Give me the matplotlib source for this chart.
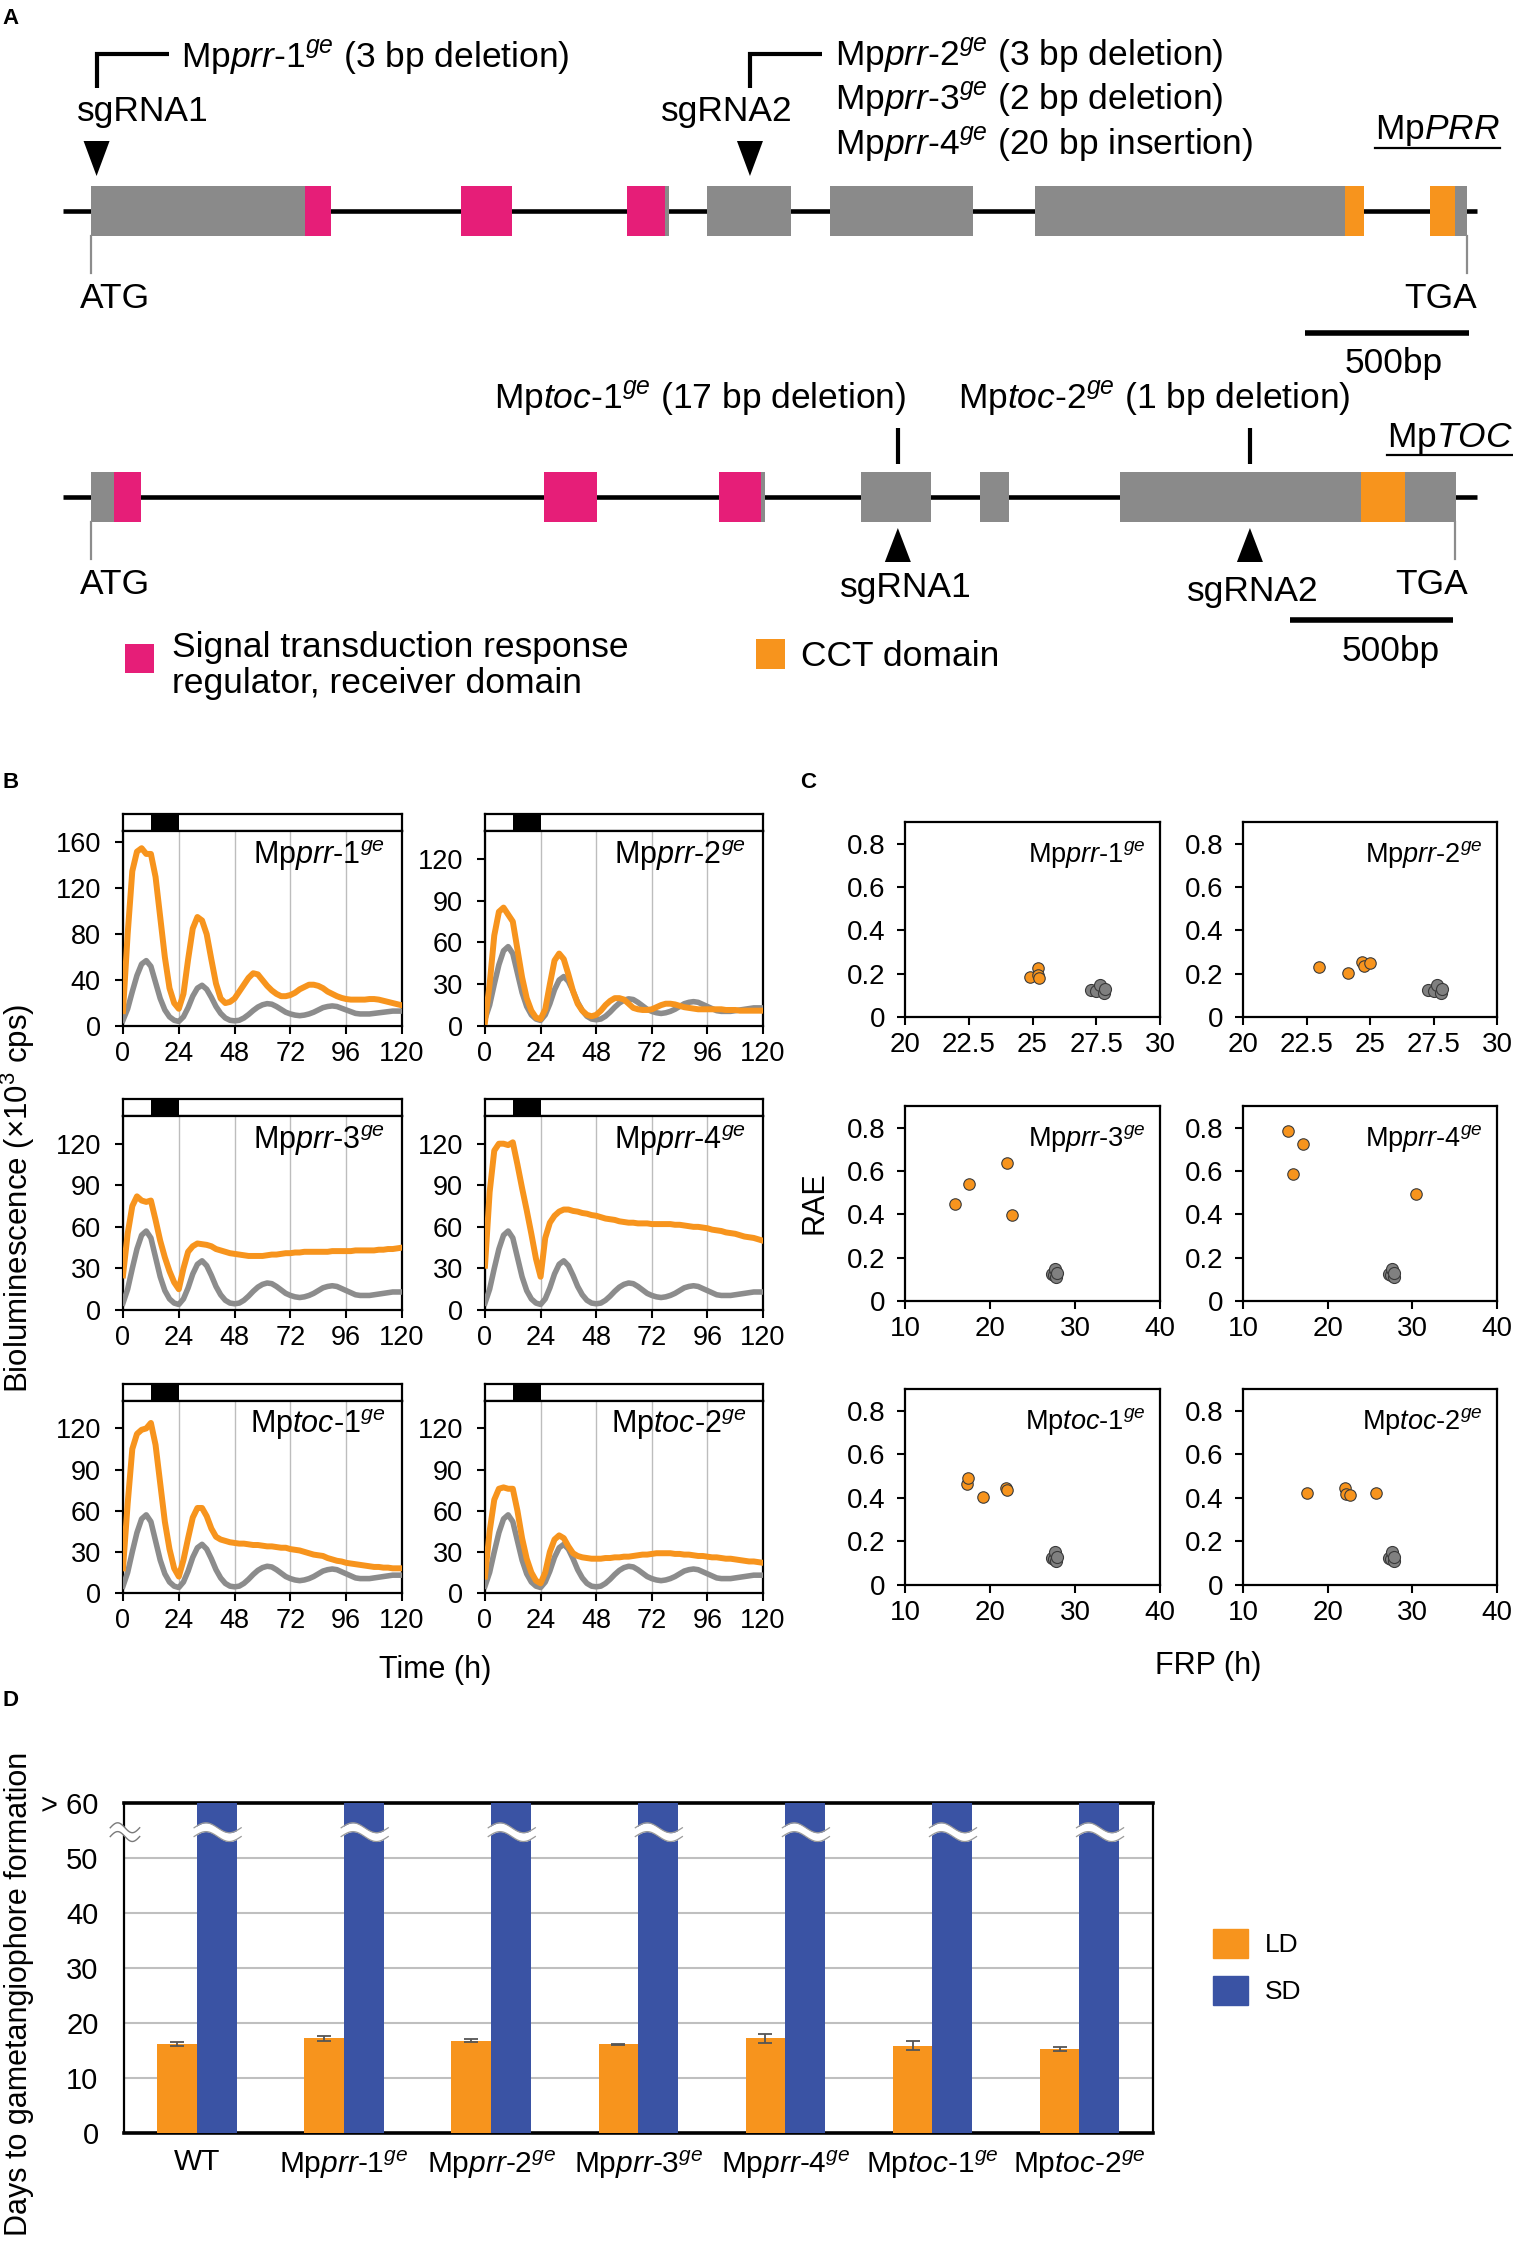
import numpy as np
import matplotlib
matplotlib.use('Agg')
import matplotlib.pyplot as plt
from matplotlib.patches import Rectangle, Polygon, Patch
from matplotlib.lines import Line2D

plt.rcParams['font.family'] = ['Liberation Sans', 'DejaVu Sans']
plt.rcParams['mathtext.fontset'] = 'custom'
plt.rcParams['mathtext.rm'] = 'Liberation Sans'
plt.rcParams['mathtext.it'] = 'Liberation Sans:italic'
plt.rcParams['mathtext.bf'] = 'Liberation Sans:bold'

ORANGE = '#F7941D'
PINK = '#E61E78'
GRAY_EXON = '#8A8A8A'
GRAY_LINE = '#8C8C8C'
GRAY_PT = '#808080'
BLUE = '#3A53A4'

# ---------------- Panel A data (bp from ATG) ----------------
PRR_EXONS = [(0, 732), (1128, 1284), (1634, 1762), (1878, 2134), (2253, 2689), (2878, 3881), (4082, 4195)]
PRR_RECEIVER = [(652, 732), (1128, 1284), (1634, 1750)]
PRR_CCT = [(3823, 3881), (4082, 4159)]
PRR_TGA = 4195
PRR_SGRNA = [17, 2009]
PRR_SPAN = (-85, 4226)

TOC_EXONS = [(0, 153), (1390, 1552), (1926, 2067), (2362, 2577), (2727, 2816), (3156, 4187)]
TOC_RECEIVER = [(71, 153), (1390, 1552), (1926, 2055)]
TOC_CCT = [(3896, 4031)]
TOC_TGA = 4184
TOC_SGRNA = [2475, 3555]
TOC_SPAN = (-86, 4252)
SCALE_BP = 500

# ---------------- Panel B data ----------------
hours = list(range(0, 121, 2))
wt_lum = [5, 15, 30, 44, 54, 57, 52, 38, 24, 14,
          8, 5, 4, 8, 16, 26, 33, 35.5, 32, 25,
          17, 11, 7, 5, 4.5, 5, 7, 10, 13.5, 16.5,
          18.5, 19.5, 19, 17, 14.5, 12, 10.5, 9.5, 9, 9.5,
          10.5, 12, 14, 16, 17, 17.5, 17, 15.5, 14, 12.5,
          11, 10.5, 10.5, 10.5, 11, 11.5, 12, 12.5, 13, 13,
          13]
prr1_lum = [13, 80, 135, 152, 155, 150, 150, 130, 95, 60,
            33, 20, 15, 28, 58, 85, 95, 92, 80, 58,
            37, 24, 20, 21, 24, 30, 36, 42, 46, 45,
            40, 35, 31, 28, 26, 26, 27, 29, 32, 34,
            36, 36, 35, 33, 30, 28, 26, 24.5, 23.5, 23,
            23, 23, 23, 23.5, 23.5, 23, 22, 21, 20, 19,
            18]
prr2_lum = [3, 30, 65, 82, 85, 80, 75, 55, 35, 20,
            11, 6, 5, 12, 30, 47, 52, 48, 37, 25,
            16, 11, 8, 7, 8, 11, 15, 18, 20, 20,
            19, 16, 13, 12, 11.5, 11.5, 12, 13.5, 15, 16,
            16, 15.5, 14.5, 13.5, 13, 12.5, 12, 12, 12, 12,
            12, 12, 11.5, 11.5, 11.5, 11, 11, 11, 11, 11,
            11]
prr3_lum = [25, 55, 75, 82, 79, 78, 79, 65, 50, 38,
            28, 20, 15, 30, 42, 46, 48, 47.5, 47, 46,
            44, 43, 42, 41, 40.5, 40, 39.5, 39, 39, 39,
            39, 39.5, 40, 40, 40.5, 41, 41, 41.5, 41.5, 42,
            42, 42, 42, 42, 42, 42.5, 42.5, 42.5, 42.5, 42.5,
            43, 43, 43, 43, 43, 43.5, 43.5, 44, 44, 44.5,
            45]
prr4_lum = [32, 85, 115, 120, 120, 119, 121, 105, 88, 72,
            55, 37, 24, 52, 63, 68, 71, 72.5, 72.5, 71.5,
            71, 70, 69.5, 68.5, 68, 67, 66, 65.5, 65, 64,
            63.5, 63, 63, 62.5, 62.5, 62.5, 62, 62, 62, 62,
            62, 61.5, 61.5, 61, 60.5, 60, 60, 59.5, 59, 58,
            57.5, 57, 56, 55.5, 55, 54, 53, 52.5, 52, 51,
            50]
toc1_lum = [18, 65, 105, 116, 119, 120, 124, 108, 80, 52,
            32, 18, 12, 24, 40, 55, 62, 62, 56, 47,
            41, 39, 38, 37, 36.5, 36, 36, 35.5, 35, 35,
            34.5, 34, 34, 33.5, 33, 33, 32, 31.5, 31, 30,
            29, 28, 27.5, 27, 25.5, 24.5, 23.5, 23, 22, 21.5,
            21, 20.5, 20, 19.5, 19, 19, 18.5, 18.5, 18, 18,
            18]
toc2_lum = [12, 45, 68, 76, 77, 76, 76, 60, 40, 25,
            15, 9, 7, 15, 30, 39, 42, 40, 34, 29,
            27, 26, 25.5, 25, 25, 25, 25.5, 25.5, 26, 26,
            26.5, 26.5, 27, 27.5, 28, 28, 28.5, 29, 29, 29,
            29, 28.5, 28.5, 28, 28, 27.5, 27, 27, 26.5, 26,
            26, 25.5, 25, 25, 24.5, 24, 23.5, 23, 23, 22.5,
            22]
LIGHT_DARK = [(0, 12, 'white'), (12, 24, 'black'), (24, 120, 'white')]

# ---------------- Panel C data ----------------
wt_frp = [27.3, 27.5, 27.65, 27.8, 27.85]
wt_rae = [0.125, 0.12, 0.15, 0.11, 0.13]
prr1_frp = [24.9, 25.2, 25.2, 25.25]
prr1_rae = [0.185, 0.225, 0.195, 0.18]
prr2_frp = [23.0, 24.15, 24.7, 24.75, 25.0]
prr2_rae = [0.23, 0.205, 0.255, 0.235, 0.25]
prr3_frp = [15.9, 17.5, 22.05, 22.6]
prr3_rae = [0.447, 0.54, 0.637, 0.396]
prr4_frp = [15.3, 17.05, 15.95, 30.4]
prr4_rae = [0.786, 0.724, 0.586, 0.494]
toc1_frp = [17.25, 17.4, 19.15, 21.9, 21.95]
toc1_rae = [0.465, 0.49, 0.405, 0.445, 0.438]
toc2_frp = [17.6, 22.1, 22.2, 22.65, 25.7]
toc2_rae = [0.423, 0.445, 0.42, 0.415, 0.423]

# ---------------- Panel D data ----------------
genotypes = ['WT', 'prr-1', 'prr-2', 'prr-3', 'prr-4', 'toc-1', 'toc-2']
ld_days = [16.2, 17.2, 16.8, 16.1, 17.2, 15.9, 15.3]
ld_err = [0.35, 0.5, 0.25, 0.15, 0.75, 0.75, 0.35]
sd_days = [60, 60, 60, 60, 60, 60, 60]
d_yticks = [0, 10, 20, 30, 40, 50, 60]
d_yticklabels = ['0', '10', '20', '30', '40', '50', '> 60']
SD_BREAK = 54.7

# ---------------- figure ----------------
W, H = 1513, 2241
fig = plt.figure(figsize=(W / 100, H / 100), dpi=100)


def ax_px(l, t, r, b):
    return fig.add_axes([l / W, 1 - b / H, (r - l) / W, (b - t) / H])


def ftext(x, y, s, **kw):
    kw.setdefault('va', 'center')
    return fig.text(x / W, 1 - y / H, s, **kw)


def frect(l, t, r, b, color):
    fig.add_artist(Rectangle((l / W, 1 - b / H), (r - l) / W, (b - t) / H,
                             transform=fig.transFigure, facecolor=color, edgecolor='none'))


def geno(name):
    if name == 'WT':
        return 'WT'
    g, n = name.split('-')
    return r'Mp$\mathit{' + g + r'}$-$\mathit{' + n + r'}^{\mathit{ge}}$'


FA = 25.5  # panel A font size

# ======== Panel A ========
def gene_axes(top, bottom, k):
    ax = ax_px(0, top, W, bottom)
    ax.set_xlim(-91 / k, (W - 91) / k)
    ax.set_ylim(bottom, top)
    ax.axis('off')
    return ax


def draw_gene(ax, exons, receiver, cct, span, tga, yc, hh):
    ax.plot(span, [yc, yc], color='black', lw=3.3, solid_capstyle='butt', zorder=1)
    for s, e in exons:
        ax.add_patch(Rectangle((s, yc - hh), e - s, 2 * hh, fc=GRAY_EXON, ec='none', zorder=2))
    for s, e in receiver:
        ax.add_patch(Rectangle((s, yc - hh), e - s, 2 * hh, fc=PINK, ec='none', zorder=3))
    for s, e in cct:
        ax.add_patch(Rectangle((s, yc - hh), e - s, 2 * hh, fc=ORANGE, ec='none', zorder=3))
    for xpos in (0, tga):
        ax.plot([xpos, xpos], [yc + hh, yc + hh + 37], color='#8C8C8C', lw=1.6, zorder=2)


k1 = 164 / 500
axP = gene_axes(0, 380, k1)
draw_gene(axP, PRR_EXONS, PRR_RECEIVER, PRR_CCT, PRR_SPAN, PRR_TGA, 211, 25)
tw = 13 / k1
for s in PRR_SGRNA:
    axP.add_patch(Polygon([(s - tw, 141), (s + tw, 141), (s, 176)], closed=True, fc='black', ec='none'))
    axP.plot([s, s, s + 72 / k1], [88, 54, 54], color='black', lw=3, solid_joinstyle='miter',
             solid_capstyle='butt')
axP.plot([3701, 3701 + SCALE_BP], [333, 333], color='black', lw=4, solid_capstyle='butt')

k2 = 163 / 500
axT = gene_axes(380, 720, k2)
draw_gene(axT, TOC_EXONS, TOC_RECEIVER, TOC_CCT, TOC_SPAN, TOC_TGA, 497, 25)
tw2 = 13 / k2
for s in TOC_SGRNA:
    axT.add_patch(Polygon([(s - tw2, 562), (s + tw2, 562), (s, 528)], closed=True, fc='black', ec='none'))
    axT.plot([s, s], [428, 464], color='black', lw=3, solid_capstyle='butt')
axT.plot([3678, 3678 + SCALE_BP], [620, 620], color='black', lw=4, solid_capstyle='butt')

ftext(2, 18, 'A', fontsize=16, fontweight='bold', ha='left')
ftext(181, 57, r'Mp$\mathit{prr}$-$\mathit{1}^{\mathit{ge}}$ (3 bp deletion)', fontsize=FA, ha='left')
ftext(77, 112, 'sgRNA1', fontsize=FA, ha='left')
ftext(661, 112, 'sgRNA2', fontsize=FA, ha='left')
ftext(835, 55, r'Mp$\mathit{prr}$-$\mathit{2}^{\mathit{ge}}$ (3 bp deletion)', fontsize=FA, ha='left')
ftext(835, 99, r'Mp$\mathit{prr}$-$\mathit{3}^{\mathit{ge}}$ (2 bp deletion)', fontsize=FA, ha='left')
ftext(835, 144, r'Mp$\mathit{prr}$-$\mathit{4}^{\mathit{ge}}$ (20 bp insertion)', fontsize=FA, ha='left')
ftext(80, 298, 'ATG', fontsize=FA, ha='left')
ftext(1404, 298, 'TGA', fontsize=FA, ha='left')
ftext(1394, 363, '500bp', fontsize=FA, ha='center')

ftext(494, 399, r'Mp$\mathit{toc}$-$\mathit{1}^{\mathit{ge}}$ (17 bp deletion)', fontsize=FA, ha='left')
ftext(958, 399, r'Mp$\mathit{toc}$-$\mathit{2}^{\mathit{ge}}$ (1 bp deletion)', fontsize=FA, ha='left')
ftext(840, 588, 'sgRNA1', fontsize=FA, ha='left')
ftext(1187, 592, 'sgRNA2', fontsize=FA, ha='left')
ftext(80, 584, 'ATG', fontsize=FA, ha='left')
ftext(1395, 584, 'TGA', fontsize=FA, ha='left')
ftext(1391, 651, '500bp', fontsize=FA, ha='center')

renderer = fig.canvas.get_renderer()
for (x, y, s, uy) in [(1375, 131, r'Mp$\mathit{PRR}$', 148), (1387, 438, r'Mp$\mathit{TOC}$', 455)]:
    t = ftext(x, y, s, fontsize=FA, ha='left')
    bb = t.get_window_extent(renderer=renderer)
    fig.add_artist(Line2D([bb.x0 / W, bb.x1 / W], [1 - uy / H, 1 - uy / H],
                          transform=fig.transFigure, color='black', lw=1.6))

frect(125, 644, 154, 673, PINK)
ftext(172, 647, 'Signal transduction response', fontsize=FA, ha='left')
ftext(172, 684, 'regulator, receiver domain', fontsize=FA, ha='left')
frect(756, 639, 785, 669, ORANGE)
ftext(801, 656, 'CCT domain', fontsize=FA, ha='left')

# ======== Panel B ========
ftext(2, 783, 'B', fontsize=16, fontweight='bold', ha='left')
B_COLS = [(123, 402), (485, 763)]
B_ROWS = [(814, 831, 1026), (1099, 1116, 1310), (1384, 1401, 1593)]
b_series = [('prr-1', prr1_lum, 170, [0, 40, 80, 120, 160]),
            ('prr-2', prr2_lum, 140, [0, 30, 60, 90, 120]),
            ('prr-3', prr3_lum, 140, [0, 30, 60, 90, 120]),
            ('prr-4', prr4_lum, 140, [0, 30, 60, 90, 120]),
            ('toc-1', toc1_lum, 140, [0, 30, 60, 90, 120]),
            ('toc-2', toc2_lum, 140, [0, 30, 60, 90, 120])]
for i, (name, series, ytop, yt) in enumerate(b_series):
    l, r = B_COLS[i % 2]
    bt, at, ab = B_ROWS[i // 2]
    axb = ax_px(l, bt, r, at)
    axb.set_xlim(0, 120)
    axb.set_ylim(0, 1)
    for s, e, c in LIGHT_DARK:
        axb.add_patch(Rectangle((s, 0), e - s, 1, fc=c, ec='none'))
    axb.set_xticks([])
    axb.set_yticks([])
    for sp in axb.spines.values():
        sp.set_linewidth(1.6)
    ax = ax_px(l, at, r, ab)
    ax.plot(hours, wt_lum, color=GRAY_LINE, lw=4, solid_joinstyle='round', zorder=3)
    ax.plot(hours, series, color=ORANGE, lw=4.3, solid_joinstyle='round', zorder=4)
    ax.set_xlim(0, 120)
    ax.set_ylim(0, ytop)
    ax.set_xticks([0, 24, 48, 72, 96, 120])
    ax.set_yticks(yt)
    ax.grid(axis='x', color='#BDBDBD', lw=1.0)
    ax.tick_params(direction='out', length=6, width=1.5, labelsize=19.5)
    ax.tick_params(axis='y', pad=10)
    ax.tick_params(axis='x', pad=5)
    for sp in ax.spines.values():
        sp.set_linewidth(1.6)
    ax.text(0.94, 0.875, geno(name), transform=ax.transAxes, ha='right', va='center', fontsize=22)

ftext(18, 1198, r'Bioluminescence (×10$^{3}$ cps)', fontsize=22.5, rotation=90, ha='center')
ftext(435, 1670, 'Time (h)', fontsize=22, ha='center')

# ======== Panel C ========
ftext(800, 783, 'C', fontsize=16, fontweight='bold', ha='left')
C_COLS = [(905, 1160), (1243, 1497)]
C_ROWS = [(822, 1017), (1106, 1301), (1389, 1585)]
c_series = [('prr-1', prr1_frp, prr1_rae), ('prr-2', prr2_frp, prr2_rae),
            ('prr-3', prr3_frp, prr3_rae), ('prr-4', prr4_frp, prr4_rae),
            ('toc-1', toc1_frp, toc1_rae), ('toc-2', toc2_frp, toc2_rae)]
for i, (name, frp, rae) in enumerate(c_series):
    l, r = C_COLS[i % 2]
    t, b = C_ROWS[i // 2]
    ax = ax_px(l, t, r, b)
    ax.scatter(wt_frp, wt_rae, s=75, color=GRAY_PT, edgecolor='#3A3A3A', linewidth=0.8, zorder=3)
    ax.scatter(frp, rae, s=68, color=ORANGE, edgecolor='#3A3A3A', linewidth=0.8, zorder=4)
    if i < 2:
        ax.set_xlim(20, 30)
        ax.set_xticks([20, 22.5, 25, 27.5, 30])
        ax.set_xticklabels(['20', '22.5', '25', '27.5', '30'])
    else:
        ax.set_xlim(10, 40)
        ax.set_xticks([10, 20, 30, 40])
    ax.set_ylim(0, 0.9)
    ax.set_yticks([0, 0.2, 0.4, 0.6, 0.8])
    ax.set_yticklabels(['0', '0.2', '0.4', '0.6', '0.8'])
    ax.tick_params(direction='out', length=6, width=1.5, labelsize=20)
    ax.tick_params(axis='y', pad=8)
    ax.tick_params(axis='x', pad=5)
    for sp in ax.spines.values():
        sp.set_linewidth(1.6)
    ax.text(0.945, 0.835, geno(name), transform=ax.transAxes, ha='right', va='center', fontsize=19.5)

ftext(814, 1203, 'RAE', fontsize=22, rotation=90, ha='center')
ftext(1208, 1666, 'FRP (h)', fontsize=22, ha='center')

# ======== Panel D ========
ftext(2, 1700, 'D', fontsize=16, fontweight='bold', ha='left')
axD = ax_px(123.5, 1803, 1153, 2133)
xpos = np.arange(len(genotypes))
bw = 0.27
axD.bar(xpos - bw / 2, ld_days, width=bw, color=ORANGE, zorder=3,
        yerr=ld_err, error_kw=dict(ecolor='#555555', elinewidth=1.3, capsize=5, capthick=1.3, zorder=4))
axD.bar(xpos + bw / 2, sd_days, width=bw, color=BLUE, zorder=3)
axD.set_xlim(-0.5, len(genotypes) - 0.5)
axD.set_ylim(0, 60)
axD.set_yticks(d_yticks)
axD.set_yticklabels(d_yticklabels)
axD.set_xticks(xpos)
axD.set_xticklabels([geno(g) for g in genotypes])
axD.yaxis.grid(True, color='#BFBFBF', lw=1.5)
axD.set_axisbelow(True)
axD.tick_params(axis='both', length=0)
axD.tick_params(axis='y', labelsize=21, pad=18)
axD.tick_params(axis='x', labelsize=21.5, pad=11)
for side in ('top', 'bottom'):
    axD.spines[side].set_linewidth(2.6)
for side in ('left', 'right'):
    axD.spines[side].set_linewidth(1.6)

# break marks on SD bars and on y axis
for xc in xpos + bw / 2:
    xs = np.linspace(xc - bw / 2 - 0.02, xc + bw / 2 + 0.03, 60)
    wave = 0.9 * np.sin(np.linspace(0, 2 * np.pi, 60))
    up = SD_BREAK + 0.8 + wave
    lo = SD_BREAK - 0.8 + wave
    axD.fill_between(xs, lo, up, color='white', zorder=5, lw=0)
    axD.plot(xs, up, color='#9A9A9A', lw=0.9, zorder=6)
    axD.plot(xs, lo, color='#9A9A9A', lw=0.9, zorder=6)
xs = np.linspace(-0.5 - 0.09, -0.5 + 0.11, 40)
wave = 0.9 * np.sin(np.linspace(0, 2 * np.pi, 40))
axD.fill_between(xs, SD_BREAK - 0.8 + wave, SD_BREAK + 0.8 + wave, color='white', zorder=5, lw=0, clip_on=False)
axD.plot(xs, SD_BREAK + 0.8 + wave, color='#7A7A7A', lw=1.0, zorder=6, clip_on=False)
axD.plot(xs, SD_BREAK - 0.8 + wave, color='#7A7A7A', lw=1.0, zorder=6, clip_on=False)

axD.legend(handles=[Patch(color=ORANGE), Patch(color=BLUE)], labels=['LD', 'SD'],
           loc='center left', bbox_to_anchor=(1213 / W, 1 - 1967 / H), bbox_transform=fig.transFigure,
           frameon=False, fontsize=19, handlelength=1.33, handleheight=1.3, labelspacing=0.68,
           handletextpad=0.64, borderpad=0, borderaxespad=0)

ftext(19, 1994, 'Days to gametangiophore formation', fontsize=22, rotation=90, ha='center')

fig.savefig('out.png', dpi=100)
